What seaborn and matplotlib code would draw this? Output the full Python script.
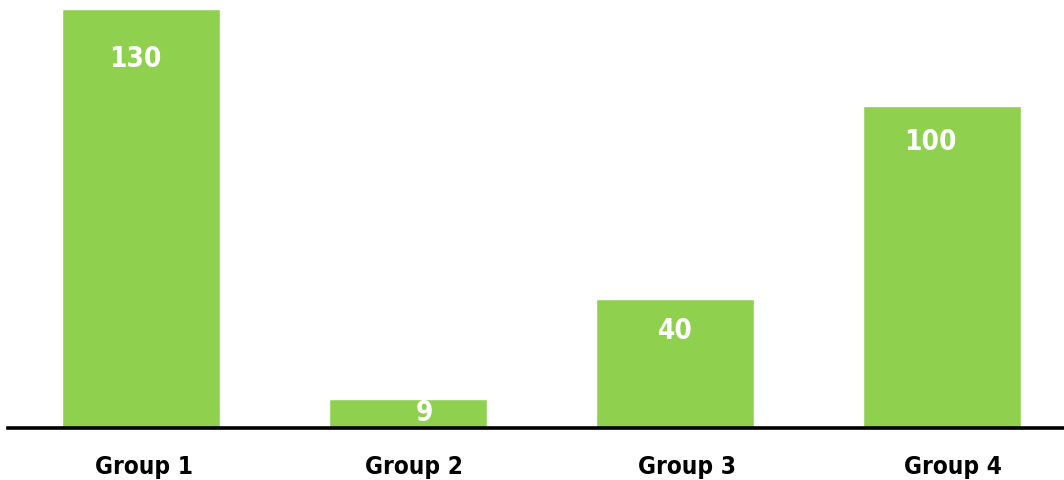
import matplotlib
matplotlib.use("Agg")
import matplotlib.pyplot as plt
import matplotlib.transforms as mtransforms
import seaborn as sns
import pandas as pd
from matplotlib import font_manager

categories = ["Group 1", "Group 2", "Group 3", "Group 4"]
values = [130, 9, 40, 100]

# label placement (styling): distance below bar top in px, and x shift in px
label_drop_px = [49, 13, 31, 35]
label_dx_px = [-6, 16, 0, -12]
tick_dx_px = [3, 6, 12, 11]

sns.set_theme(style="white")
plt.rcParams["font.family"] = ["DejaVu Sans"]
plt.rcParams["font.stretch"] = "condensed"

df = pd.DataFrame({"group": categories, "value": values})

W, H = 1064, 481
fig = plt.figure(figsize=(W / 100, H / 100), dpi=100)
base_y = 429
px_per_unit = 3.22
ax = fig.add_axes([8 / W, 1 - base_y / H, 1 - 8 / W, base_y / H])

sns.barplot(data=df, x="group", y="value", color="#8fd14f", width=0.595,
            saturation=1, ax=ax)

bar_pitch = 267.0
ax.set_xlim(-133 / bar_pitch, (W - 141) / bar_pitch)
ax.set_ylim(0, base_y / px_per_unit)

for s in ["top", "right", "left"]:
    ax.spines[s].set_visible(False)
ax.spines["bottom"].set_color("black")
ax.spines["bottom"].set_linewidth(2.6)
ax.set_yticks([])
ax.set_xlabel("")
ax.set_ylabel("")
ax.tick_params(axis="x", length=0, pad=19)
for i, t in enumerate(ax.get_xticklabels()):
    t.set_fontsize(17.5)
    t.set_fontweight("bold")
    t.set_fontstretch("condensed")
    t.set_color("black")
    t.set_transform(t.get_transform() + mtransforms.ScaledTranslation(tick_dx_px[i] / 100, 0, fig.dpi_scale_trans))

for i, v in enumerate(values):
    ax.annotate(str(v), xy=(i, v), xytext=(label_dx_px[i] * 0.72, -label_drop_px[i] * 0.72),
                textcoords="offset points", ha="center", va="center",
                color="white", fontsize=20, fontweight="bold", fontstretch="condensed")

fig.savefig("out.png", dpi=100)
